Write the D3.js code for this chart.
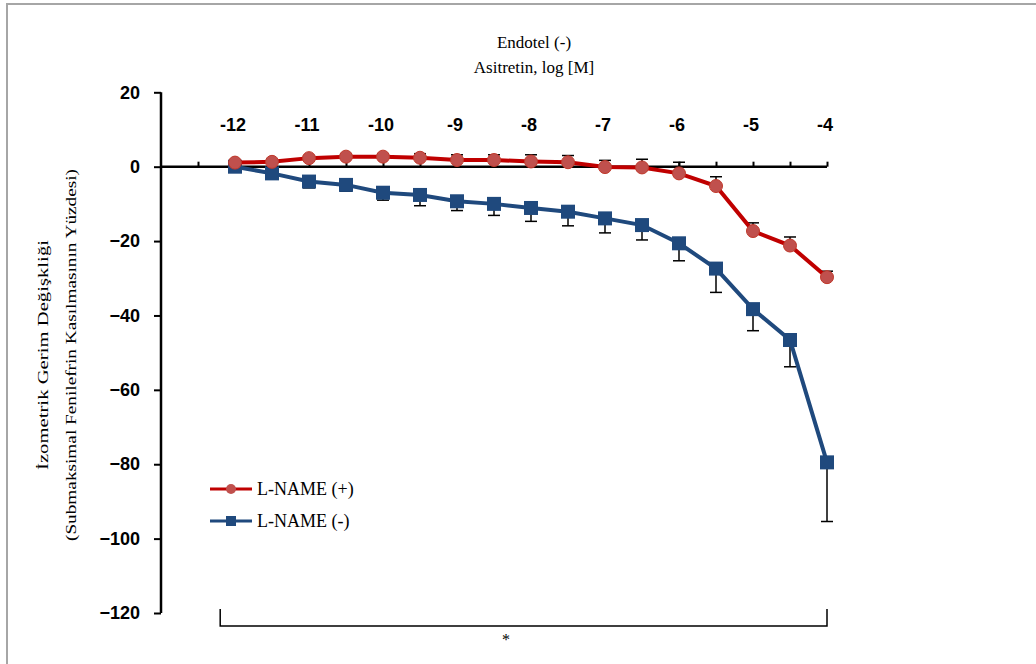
<!DOCTYPE html>
<html>
<head>
<meta charset="utf-8">
<script src="https://cdn.jsdelivr.net/npm/d3@7"></script>
<style>
  body { margin: 0; background: #fff; }
  svg { display: block; }
</style>
</head>
<body>
<div id="chart"></div>
<script>
// log concentration (M)
const concentrations = [-12, -11.5, -11, -10.5, -10, -9.5, -9, -8.5, -8, -7.5, -7, -6.5, -6, -5.5, -5, -4.5, -4];
// L-NAME (+) mean and SEM (bars drawn upward)
const lnamePlus = [1.1, 1.3, 2.3, 2.7, 2.7, 2.4, 1.8, 1.8, 1.4, 1.2, -0.1, -0.2, -1.8, -5.2, -17.3, -21.2, -29.7];
const lnamePlusErr = [0.3, 0.4, 0.5, 0.6, 0.7, 1.1, 1.4, 1.4, 1.8, 1.8, 1.8, 2.2, 3.0, 2.5, 2.2, 2.3, 1.6];
// L-NAME (-) mean and SEM (bars drawn downward)
const lnameMinus = [0, -1.8, -4.0, -4.9, -7.0, -7.6, -9.3, -10.0, -11.1, -12.1, -13.9, -15.7, -20.6, -27.4, -38.3, -46.6, -79.5];
const lnameMinusErr = [0.3, 0.5, 1.7, 1.7, 2.0, 2.9, 2.5, 3.1, 3.6, 3.8, 3.9, 4.0, 4.7, 6.4, 5.8, 7.2, 15.9];
const xTickLabels = [-12, -11, -10, -9, -8, -7, -6, -5, -4];
const xMinorTicks = [-12.5, -12, -11.5, -11, -10.5, -10, -9.5, -9, -8.5, -8, -7.5, -7, -6.5, -6, -5.5, -5, -4.5, -4];
const yTicks = [20, 0, -20, -40, -60, -80, -100, -120];

const width = 1036, height = 664;
const svg = d3.select('#chart').append('svg')
  .attr('width', width).attr('height', height);

// frame (only top and left edges visible)
svg.append('path')
  .attr('d', `M7,${height} V4 H${width}`)
  .attr('fill', 'none').attr('stroke', '#a6a6a6').attr('stroke-width', 2);

const x = d3.scaleLinear().domain([-13, -4]).range([161, 827]);
const y = d3.scaleLinear().domain([20, -120]).range([92.3, 613]);

const tickFont = 'bold 18px "Liberation Sans", Arial, sans-serif';

// y axis
const yAxis = svg.append('g').attr('transform', `translate(${x(-13)},0)`)
  .call(d3.axisLeft(y).tickValues(yTicks).tickSize(7).tickPadding(14));
yAxis.select('.domain').attr('stroke', '#000').attr('stroke-width', 2.5)
  .attr('d', `M0,${y(20)} V${y(-120)}`);
yAxis.selectAll('.tick line').attr('stroke', '#000').attr('stroke-width', 2);
yAxis.selectAll('.tick text').style('font', tickFont).attr('fill', '#000');

// x axis along y = 0, ticks upward
const xAxis = svg.append('g').attr('transform', `translate(0,${y(0)})`)
  .call(d3.axisTop(x).tickValues(xMinorTicks).tickSize(5).tickFormat(''));
xAxis.select('.domain').attr('stroke', '#000').attr('stroke-width', 2.5)
  .attr('d', `M${x(-13)},0 H${x(-4)}`);
xAxis.selectAll('.tick line').attr('stroke', '#000').attr('stroke-width', 2);

svg.append('g').selectAll('text').data(xTickLabels).join('text')
  .attr('x', d => x(d) - 2).attr('y', 131)
  .attr('text-anchor', 'middle')
  .style('font', tickFont)
  .text(d => d);

// titles
const serif = '"Liberation Serif", "Times New Roman", serif';
svg.append('text').attr('x', 534).attr('y', 48).attr('text-anchor', 'middle')
  .style('font-family', serif).style('font-size', '17px').text('Endotel (-)');
svg.append('text').attr('x', 534).attr('y', 73).attr('text-anchor', 'middle')
  .style('font-family', serif).style('font-size', '17px').text('Asitretin, log  [M]');

const yTitle = svg.append('g').attr('transform', 'translate(0,355) rotate(-90)');
yTitle.append('text').attr('x', 0).attr('y', 48).attr('text-anchor', 'middle')
  .style('font-family', serif).style('font-size', '15px')
  .attr('textLength', 230).attr('lengthAdjust', 'spacingAndGlyphs')
  .text('İzometrik Gerim  Değişkliği');
yTitle.append('text').attr('x', 0).attr('y', 76).attr('text-anchor', 'middle')
  .style('font-family', serif).style('font-size', '15px')
  .attr('textLength', 372).attr('lengthAdjust', 'spacingAndGlyphs')
  .text('(Submaksimal Fenilefrin Kasılmasının Yüzdesi)');

const red = '#c00000', redFill = '#c0504d';
const blue = '#1f497d';

const line = d3.line().x(d => x(d[0])).y(d => y(d[1]));

// error bars
function errorBars(vals, errs, dir) {
  const g = svg.append('g').attr('stroke', '#000').attr('stroke-width', 1.5);
  concentrations.forEach((c, i) => {
    const y0 = y(vals[i]), y1 = y(vals[i] + dir * errs[i]);
    g.append('line').attr('x1', x(c)).attr('x2', x(c)).attr('y1', y0).attr('y2', y1);
    g.append('line').attr('x1', x(c) - 6).attr('x2', x(c) + 6).attr('y1', y1).attr('y2', y1);
  });
}
errorBars(lnameMinus, lnameMinusErr, -1);
errorBars(lnamePlus, lnamePlusErr, 1);

// L-NAME (-) series
svg.append('path').datum(concentrations.map((c, i) => [c, lnameMinus[i]]))
  .attr('d', line).attr('fill', 'none').attr('stroke', blue).attr('stroke-width', 4);
svg.append('g').selectAll('rect').data(concentrations).join('rect')
  .attr('x', d => x(d) - 7).attr('y', (d, i) => y(lnameMinus[i]) - 7)
  .attr('width', 14).attr('height', 14).attr('fill', blue);

// L-NAME (+) series
svg.append('path').datum(concentrations.map((c, i) => [c, lnamePlus[i]]))
  .attr('d', line).attr('fill', 'none').attr('stroke', red).attr('stroke-width', 4);
svg.append('g').selectAll('circle').data(concentrations).join('circle')
  .attr('cx', d => x(d)).attr('cy', (d, i) => y(lnamePlus[i]))
  .attr('r', 6.5).attr('fill', redFill).attr('stroke', '#c0392b').attr('stroke-width', 1);

// legend
const legend = [
  { label: 'L-NAME (+)', color: red, shape: 'circle', y: 489 },
  { label: 'L-NAME (-)', color: blue, shape: 'square', y: 521 }
];
legend.forEach(l => {
  svg.append('line').attr('x1', 210).attr('x2', 252).attr('y1', l.y).attr('y2', l.y)
    .attr('stroke', l.color).attr('stroke-width', 3);
  if (l.shape === 'circle') {
    svg.append('circle').attr('cx', 231).attr('cy', l.y).attr('r', 5).attr('fill', redFill);
  } else {
    svg.append('rect').attr('x', 226).attr('y', l.y - 5).attr('width', 10).attr('height', 10).attr('fill', blue);
  }
  svg.append('text').attr('x', 257).attr('y', l.y + 6)
    .style('font-family', serif).style('font-size', '18px').text(l.label);
});

// significance bracket
svg.append('path')
  .attr('d', `M${x(-12.2)},609 V626 H${x(-4)} V609`)
  .attr('fill', 'none').attr('stroke', '#000').attr('stroke-width', 1.5);
svg.append('text').attr('x', 506).attr('y', 645).attr('text-anchor', 'middle')
  .style('font-family', serif).style('font-size', '16px').text('*');
</script>
</body>
</html>
